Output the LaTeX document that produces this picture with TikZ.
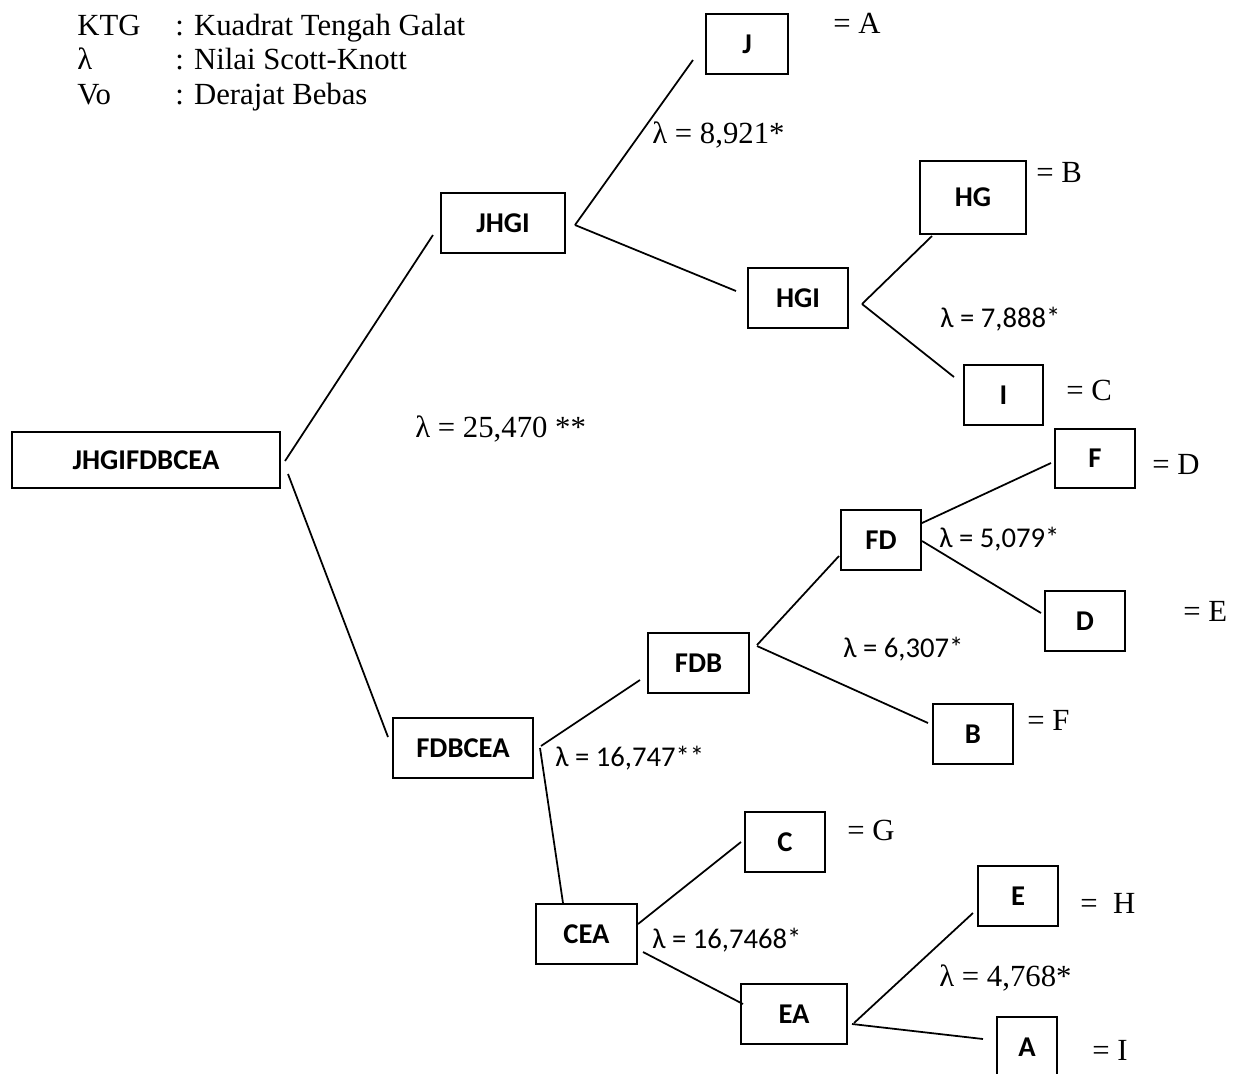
\documentclass[tikz,border=0pt]{standalone}
\usepackage{fontspec}
\setmainfont{Liberation Serif}
\newfontfamily\calibri{Carlito}
\usepackage{tikz}
\usetikzlibrary{positioning,calc}
\newlength\pxu
\setlength\pxu{0.02cm}

\begin{document}
\begin{tikzpicture}[x=0.02cm,y=-0.02cm,
  box/.style={draw,line width=1.15pt,inner sep=0pt,minimum width=80\pxu,minimum height=60\pxu,font=\calibri\bfseries\fontsize{16.3}{18}\selectfont},
  lam/.style={anchor=base west,inner sep=0pt,font=\calibri\fontsize{16.3}{18}\selectfont},
  eq/.style={anchor=base west,inner sep=0pt,font=\fontsize{17.5}{20}\selectfont},
  link/.style={line width=1pt}]
\useasboundingbox (0,0) rectangle (1245,1073);

\node[eq] (ktg) at (77,35) {KTG};
\node[eq] (ktgtxt) at (175,35) {: Kuadrat Tengah Galat};
\node[eq] (lamsym) at (77,69) {λ};
\node[eq] (lamtxt) at (175,69) {: Nilai Scott-Knott};
\node[eq] (vo) at (77,104) {Vo};
\node[eq] (votxt) at (175,104) {: Derajat Bebas};

\node[box,minimum width=268\pxu,minimum height=56\pxu] (root) at (146,460) {JHGIFDBCEA};
\node[box,minimum width=124\pxu] (jhgi) at (503,223) {JHGI};
\node[box,minimum width=82\pxu] (j) at (747,44) {J};
\node[box,minimum width=106\pxu,minimum height=73\pxu] (hg) at (973,197.5) {HG};
\node[box,minimum width=100\pxu] (hgi) at (798,298) {HGI};
\node[box,minimum width=79\pxu] (i) at (1003.5,395) {I};
\node[box,minimum height=59\pxu] (f) at (1095,458.5) {F};
\node[box] (fd) at (881,540) {FD};
\node[box] (d) at (1085,621) {D};
\node[box,minimum width=101\pxu] (fdb) at (698.5,663) {FDB};
\node[box] (b) at (973,734) {B};
\node[box,minimum width=140\pxu] (fdbcea) at (463,748) {FDBCEA};
\node[box] (c) at (785,842) {C};
\node[box,minimum width=101\pxu] (cea) at (586.5,934) {CEA};
\node[box,minimum width=106\pxu] (ea) at (794,1014) {EA};
\node[box] (e) at (1018,896) {E};
\node[box,minimum width=60\pxu] (a) at (1027,1047) {A};

\draw[link] ($(root.east)+(4,1)$) -- ($(jhgi.west)+(-7,12)$);
\draw[link] ($(root.east)+(7,14)$) -- ($(fdbcea.west)+(-4,-11)$);
\draw[link] ($(jhgi.east)+(9,2)$) -- ($(j.west)+(-12,16)$);
\draw[link] ($(jhgi.east)+(9,2)$) -- ($(hgi.west)+(-11,-7)$);
\draw[link] ($(hgi.east)+(13,6)$) -- ($(hg.south)+(-41,1)$);
\draw[link] ($(hgi.east)+(13,6)$) -- ($(i.west)+(-9,-18)$);
\draw[link] ($(fdbcea.east)+(7,-2)$) -- ($(fdb.west)+(-7,17)$);
\draw[link] ($(fdbcea.east)+(6,0)$) -- ($(cea.north)+(-23.5,0)$);
\draw[link] ($(fdb.east)+(7,-18)$) -- ($(fd.west)+(-1,16)$);
\draw[link] ($(fdb.east)+(7,-17)$) -- ($(b.west)+(-4,-11)$);
\draw[link] ($(fd.east)+(0,-17)$) -- ($(f.west)+(-3,4.5)$);
\draw[link] ($(fd.east)+(0,1)$) -- ($(d.west)+(-3,-8)$);
\draw[link] ($(cea.east)+(0,-10)$) -- ($(c.west)+(-3,0)$);
\draw[link] ($(cea.east)+(5,18)$) -- ($(ea.west)+(3,-10)$);
\draw[link] ($(ea.east)+(6,9)$) -- ($(e.west)+(-4,17)$);
\draw[link] ($(ea.east)+(4,10)$) -- ($(a.west)+(-13,-8)$);

\node[eq] (lroot) at (415,437) {λ = 25,470 **};
\node[eq] (ljhgi) at (652,143) {λ = 8,921*};
\node[lam] (lhgi) at (940,327) {λ = 7,888*};
\node[lam] (lfdbcea) at (555,766) {λ = 16,747**};
\node[lam] (lfdb) at (843,657) {λ = 6,307*};
\node[lam] (lfd) at (939,547) {λ = 5,079*};
\node[lam] (lcea) at (652,948) {λ = 16,7468*};
\node[eq] (lea) at (939,986) {λ = 4,768*};

\node[eq] (eqa) at (833,33) {= A};
\node[eq] (eqb) at (1036,182) {= B};
\node[eq] (eqc) at (1066,400) {= C};
\node[eq] (eqd) at (1152,474) {= D};
\node[eq] (eqe) at (1183,621) {= E};
\node[eq] (eqf) at (1027,730) {= F};
\node[eq] (eqg) at (847,840) {= G};
\node[eq] (eqh) at (1080,913) {=\ \ H};
\node[eq] (eqi) at (1092,1060) {= I};
\end{tikzpicture}
\end{document}
